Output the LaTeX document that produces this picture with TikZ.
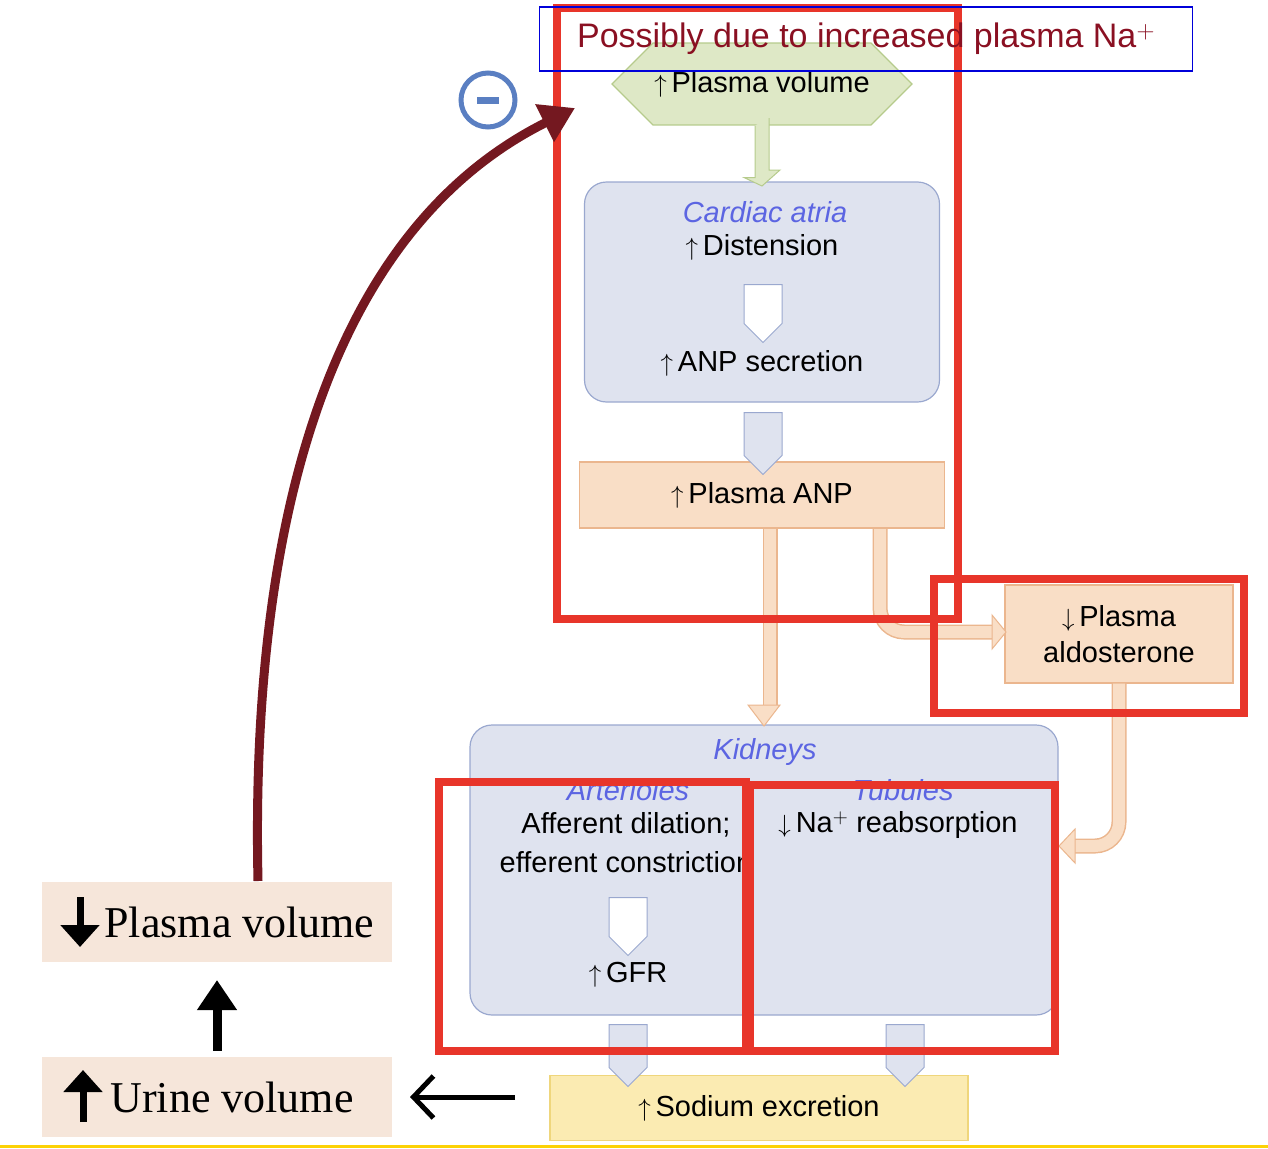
\documentclass[tikz,border=0pt]{standalone}
\usepackage{fontspec}
\setmainfont{Liberation Sans}
\newfontfamily\timesfont{Liberation Serif}
\usetikzlibrary{shapes.geometric,shapes.arrows,shapes.misc,arrows.meta}
\definecolor{atriafill}{HTML}{DFE3EF}
\definecolor{atriadraw}{HTML}{9AA8CF}
\definecolor{anpfill}{HTML}{F9DEC6}
\definecolor{anpdraw}{HTML}{EBB68E}
\definecolor{volfill}{HTML}{DEE8C6}
\definecolor{voldraw}{HTML}{B6CB8C}
\definecolor{nafill}{HTML}{FBEBB2}
\definecolor{nadraw}{HTML}{EFD67C}
\definecolor{markred}{HTML}{E8352A}
\definecolor{loopred}{HTML}{741820}
\definecolor{titlered}{HTML}{8A1022}
\definecolor{minusblue}{HTML}{5A7FC2}
\definecolor{leftfill}{HTML}{F6E6DA}
\tikzset{
  txt/.style={font=\fontsize{29}{33}\selectfont, inner sep=0pt},
  atria/.style={txt, font=\fontsize{29}{33}\selectfont\itshape, text=atriadraw!60!blue},
  flowbox/.style={draw, line width=1.2pt, inner sep=0pt},
  hollow/.style={single arrow, draw=atriadraw, fill=white, line width=1pt, minimum width=38pt,
    single arrow head extend=0pt, single arrow head indent=0pt, inner sep=6pt, shape border rotate=270},
  marker/.style={draw=markred, line width=8pt},
  lefttxt/.style={font=\timesfont\fontsize{44}{48}\selectfont, fill=leftfill, inner sep=0pt}
}
\newcommand{\up}{$\uparrow$\,}
\newcommand{\dn}{$\downarrow$\,}
\begin{document}
\begin{tikzpicture}[x=1pt,y=-1pt]
\useasboundingbox (0,0) rectangle (1268,1148);
\draw[yellow!70!orange, line width=3pt] (0,1146) -- (1268,1146);

% flow boxes
\node[flowbox, draw=voldraw, fill=volfill, chamfered rectangle, chamfered rectangle xsep=18pt, chamfered rectangle ysep=28pt,
  minimum width=300pt, minimum height=56pt, txt] (vol) at (762,84) {\up Plasma volume};
\node[flowbox, draw=atriadraw, fill=atriafill, rounded corners=22pt, minimum width=355pt, minimum height=220pt] (atria) at (762,292) {};
\node[atria] (atrialbl) at (765,212) {Cardiac atria};
\node[txt] (dist) at (762,247) {\up Distension};
\node[txt] (anpsec) at (762,363) {\up ANP secretion};
\node[flowbox, draw=anpdraw, fill=anpfill, minimum width=365pt, minimum height=66pt, txt] (anp) at (762,495) {\up Plasma ANP};
\node[flowbox, draw=anpdraw, fill=anpfill, minimum width=228pt, minimum height=98pt, txt, align=center] (aldo) at (1119,634) {\dn Plasma\\[3pt]aldosterone};
\node[flowbox, draw=atriadraw, fill=atriafill, rounded corners=22pt, minimum width=588pt, minimum height=290pt] (kid) at (764,870) {};
\node[atria] (kidlbl) at (765,752) {Kidneys};
\node[atria] (artlbl) at (628,790) {Arterioles};
\node[atria] (tublbl) at (903,790) {Tubules};
\node[txt, align=center] (aff) at (626,843) {Afferent dilation;\\[6pt]efferent constriction};
\node[txt] (reab) at (898,825) {\dn Na$^+$ reabsorption};
\node[txt] (gfr) at (628,975) {\up GFR};
\node[flowbox, draw=nadraw, fill=nafill, minimum width=418pt, minimum height=65pt, txt] (na) at (759,1108) {\up Sodium excretion};

% connectors
\draw[draw=voldraw, fill=volfill, line width=1pt] (vol.south) ++(-7,0) -- ++(0,52) -- ++(-11,0) -- (762,186) -- ++(18,-16) -- ++(-11,0) -- ++(0,-52);
\node[hollow, minimum height=58pt] (h1) at (763,304) {};
\node[hollow, minimum height=62pt, fill=atriafill] (h2) at (763,434) {};
\node[hollow, minimum height=58pt] (h3) at (628,917) {};
\node[hollow, minimum height=62pt, fill=atriafill] (h4) at (628,1046) {};
\node[hollow, minimum height=62pt, fill=atriafill] (h5) at (905,1046) {};
\draw[anpdraw, line width=15pt] (770,529) -- (770,705);
\draw[anpfill, line width=12pt] (770,529) -- (770,705);
\draw[draw=anpdraw, fill=anpfill, line width=1pt] (748,705) -- (780,705) -- (764,726) -- cycle;
\draw[anpdraw, line width=15pt, rounded corners=24pt] (880,529) -- (880,632) -- (992,632);
\draw[anpfill, line width=12pt, rounded corners=24pt] (880,529) -- (880,632) -- (992,632);
\draw[draw=anpdraw, fill=anpfill, line width=1pt] (992,615) -- (992,649) -- (1006,632) -- cycle;
\draw[anpdraw, line width=15pt, rounded corners=24pt] (aldo.south) -- (1119,846) -- (1075,846);
\draw[anpfill, line width=12pt, rounded corners=24pt] (aldo.south) -- (1119,846) -- (1075,846);
\draw[draw=anpdraw, fill=anpfill, line width=1pt] (1075,829) -- (1075,863) -- (1059,846) -- cycle;

% markers
\draw[marker] (557,8) rectangle (958,619);
\draw[marker] (934,579) rectangle (1244,713);
\draw[marker] (439,782) rectangle (746,1051);
\draw[marker] (750,785) rectangle (1055,1051);
\node[draw=blue!85!black, line width=1.5pt, minimum width=653pt, minimum height=64pt, inner sep=0pt,
  text=titlered, font=\fontsize{34}{38}\selectfont] (title) at (866,39) {Possibly due to increased plasma Na$^{+}$};

% left side
\node[lefttxt, minimum width=350pt, minimum height=80pt] (pv) at (217,922) {\hspace*{45pt}Plasma volume};
\node[lefttxt, minimum width=350pt, minimum height=80pt] (uv) at (217,1097) {\hspace*{30pt}Urine volume};
\draw[line width=7pt, -{Triangle[length=22pt,width=38pt]}] (80,897) -- (80,947);
\draw[line width=7pt, -{Triangle[length=22pt,width=38pt]}] (83,1122) -- (83,1070);
\coordinate (navl) at (515,1097);
\draw[line width=5pt, -{Straight Barb[length=20pt,width=42pt]}] (navl) -- (410,1097);
\draw[line width=9pt, -{Triangle[length=30pt,width=38pt]}] (uv.north) ++(0,-6) -- (217,980);
\coordinate (looptip) at (575,108);
\draw[loopred, line width=9pt, -{Triangle[length=34pt,width=40pt]}] (258,881) .. controls (250,520) and (330,230) .. (looptip);
\node[circle, draw=minusblue, line width=5pt, minimum size=54pt, inner sep=0pt] (minus) at (488,100) {};
\draw[minusblue, line width=7pt] (minus.center) ++(-11,0) -- ++(22,0);
\end{tikzpicture}
\end{document}
